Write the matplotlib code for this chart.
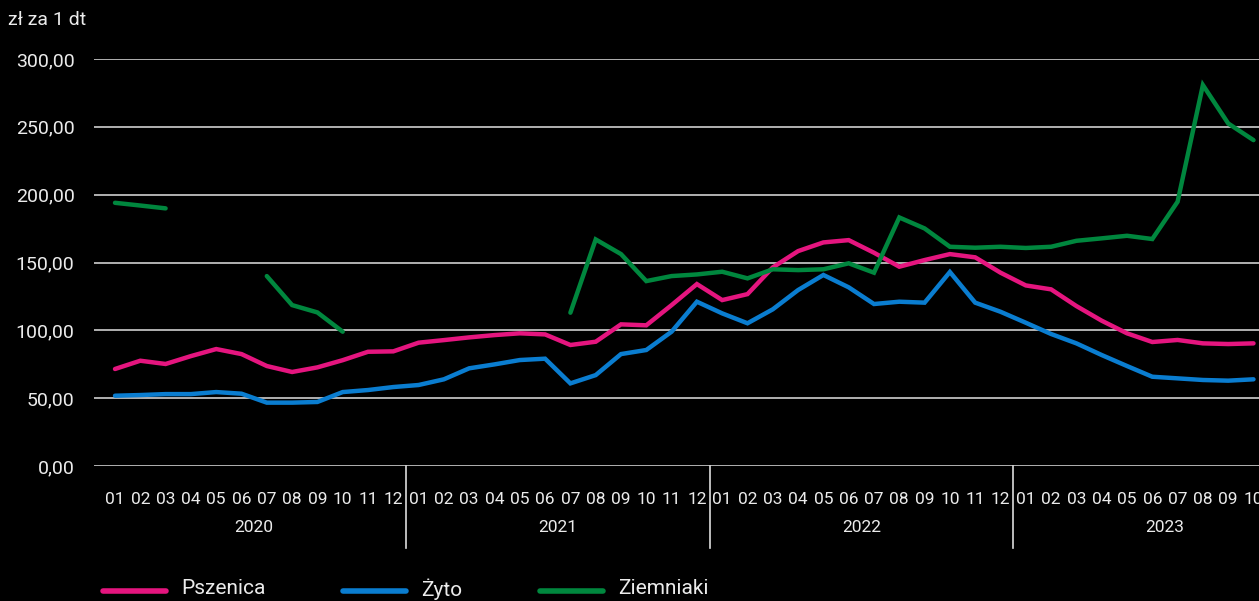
import numpy as np
import matplotlib
matplotlib.use("Agg")
import matplotlib.pyplot as plt
from matplotlib.lines import Line2D
import matplotlib.transforms as mtransforms

plt.rcParams['font.family'] = ['Roboto', 'DejaVu Sans']

years = ["2020", "2021", "2022", "2023"]
months = ["01", "02", "03", "04", "05", "06", "07", "08", "09", "10", "11", "12"]
month_labels = months * 3 + months[:10]

nan = np.nan
pszenica = [71.5, 77.6, 75.2, 81.0, 86.2, 82.5, 73.7, 69.3, 72.7, 78.0, 84.2, 84.5,
            90.9, 92.8, 94.8, 96.5, 97.8, 97.0, 89.2, 91.6, 104.4, 103.7, 118.6, 134.1,
            122.3, 126.7, 146.4, 158.4, 164.8, 166.5, 157.2, 146.9, 151.8, 156.2, 153.8, 142.5,
            133.1, 130.2, 117.9, 107.1, 97.8, 91.4, 92.9, 90.4, 89.9, 90.4]
zyto = [51.8, 52.3, 53.0, 53.0, 54.5, 53.3, 46.7, 46.7, 47.2, 54.5, 56.0, 58.2,
        59.7, 63.9, 72.0, 74.9, 78.1, 79.1, 60.9, 67.0, 82.5, 85.5, 99.0, 121.1,
        112.5, 105.2, 115.5, 129.7, 140.8, 131.7, 119.4, 121.1, 120.4, 143.0, 120.4, 113.7,
        105.6, 97.3, 90.4, 81.8, 73.7, 65.8, 64.6, 63.4, 62.9, 63.9]
ziemniaki = [194.0, 192.0, 189.9, nan, nan, nan, 140.0, 118.6, 113.2, 99.0, nan, nan,
             nan, nan, nan, nan, nan, nan, 113.0, 167.0, 156.2, 136.3, 140.0, 141.2,
             143.2, 138.3, 145.0, 144.4, 145.0, 149.4, 142.5, 183.2, 175.1, 161.6, 160.9, 161.6,
             160.7, 161.6, 166.0, 167.8, 169.7, 167.3, 194.8, 280.8, 252.5, 240.2]

series_names = ["Pszenica", "Żyto", "Ziemniaki"]
colors = ["#E5157F", "#0A7DD0", "#00873E"]
y_ticks = [0, 50, 100, 150, 200, 250, 300]

W, H = 1259, 601
fig = plt.figure(figsize=(W / 100, H / 100), dpi=100, facecolor="black")
ax = fig.add_axes([94 / W, 1 - 466 / H, 1 - 94 / W, (466 - 59) / H])
ax.set_facecolor("black")

x = np.arange(len(month_labels))
for vals, c in zip([pszenica, zyto, ziemniaki], colors):
    ax.plot(x, vals, color=c, lw=3.2, solid_capstyle="round", solid_joinstyle="miter", zorder=3)

step = 25.3
ax.set_xlim(-21 / step, (W - 115) / step)
ax.set_ylim(0, 300)

ax.set_yticks(y_ticks)
ax.set_yticklabels([f"{v:.2f}".replace(".", ",") for v in y_ticks])
for v in y_ticks:
    ax.axhline(v, color="#CFCFCF", lw=1.2, zorder=1)
ax.tick_params(axis="y", length=0, pad=14, labelsize=14, labelcolor="#EBEBEB")

ax.set_xticks(x)
ax.set_xticklabels(month_labels)
ax.tick_params(axis="x", length=0, pad=19, labelsize=12.5, labelcolor="#EBEBEB")

for s in ax.spines.values():
    s.set_visible(False)

trans = mtransforms.blended_transform_factory(ax.transData, fig.transFigure)
for i, yr in enumerate(years):
    if i < 3:
        ax.add_line(Line2D([i * 12 + 11.5] * 2, [1 - 466 / H, 1 - 548 / H], transform=trans,
                           color="#DDDDDD", lw=1.2, clip_on=False))
    cx = i * 12 + 5.5
    ax.text(cx, 1 - 527 / H, yr, transform=trans, ha="center", va="center",
            fontsize=12.5, color="#EBEBEB")

fig.text(8 / W, 1 - 20 / H, "zł za 1 dt", ha="left", va="center", fontsize=14, color="#EBEBEB")

# legend
leg_x = [103, 343, 540]
for lx, name, c in zip(leg_x, series_names, colors):
    fig.add_artist(Line2D([lx / W, (lx + 63) / W], [1 - 591 / H] * 2, transform=fig.transFigure,
                          color=c, lw=4, solid_capstyle="round"))
    fig.text((lx + 78) / W, 1 - 589 / H, name, ha="left", va="center", fontsize=15, color="#EBEBEB")

fig.savefig("out.png", dpi=100, facecolor="black")
